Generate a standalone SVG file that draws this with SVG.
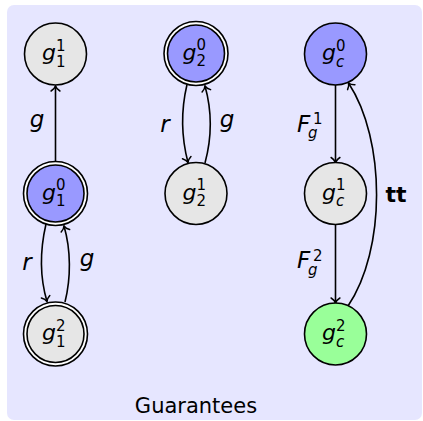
<svg xmlns="http://www.w3.org/2000/svg" width="423" height="421" viewBox="0 0 423 421">
  <defs>
    <marker id="arr" markerUnits="userSpaceOnUse" markerWidth="12" markerHeight="12" refX="0" refY="0" orient="auto" overflow="visible">
      <path d="M -5 -4.4 C -3.3 -1.7 -1.2 -0.4 0 0 C -1.2 0.4 -3.3 1.7 -5 4.4" fill="none" stroke="#000" stroke-width="1.5" stroke-linecap="round"/>
    </marker>
  </defs>
  <style>
    .bg { fill: #e6e6ff; }
    .st { stroke: #000; stroke-width: 1.6; }
    .gray { fill: #e6e6e6; }
    .blue { fill: #9999ff; }
    .green { fill: #99ff99; }
    .ring { fill: #ffffff; }
    .edge { fill: none; stroke: #000; stroke-width: 1.6; marker-end: url(#arr); }
    text { font-family: "DejaVu Sans", sans-serif; fill: #000; }
    .m { font-size: 22px; font-style: oblique; }
    .s { font-size: 15px; }
    .si { font-size: 15px; font-style: oblique; }
    .lbl { font-size: 23px; font-style: oblique; }
    .bold { font-size: 22px; font-weight: bold; }
    .cap { font-size: 21px; }
  </style>

  <!-- panel -->
  <rect class="bg" x="7" y="5" width="415" height="415" rx="7"/>

  <!-- transitions -->
  <g id="edges">
    <path class="edge" d="M 55.5 161.5 L 55.5 86"/>
    <path class="edge" d="M 46 224 C 40 250 40 278 47 301.5"/>
    <path class="edge" d="M 65 302 C 71 278 71 250 64 226"/>
    <path class="edge" d="M 187 84.5 C 181 110 181 136 188 162.5"/>
    <path class="edge" d="M 205 163 C 212 137 212 111 205 86"/>
    <path class="edge" d="M 335.5 85 L 335.5 162.5"/>
    <path class="edge" d="M 335.5 224.5 L 335.5 303"/>
    <path class="edge" d="M 348 306 C 386 250 386 140 348.5 83"/>
  </g>

  <!-- edge labels -->
  <g id="edge-labels">
    <text class="lbl" x="37" y="127" text-anchor="middle">g</text>
    <text class="lbl" x="27" y="270" text-anchor="middle">r</text>
    <text class="lbl" x="87" y="266" text-anchor="middle">g</text>
    <text class="lbl" x="165" y="132" text-anchor="middle">r</text>
    <text class="lbl" x="227" y="127" text-anchor="middle">g</text>
    <text class="lbl" x="297" y="132">F</text>
    <text class="s" x="313" y="124">1</text>
    <text class="si" x="308" y="138">g</text>
    <text class="lbl" x="297" y="268">F</text>
    <text class="s" x="313" y="261">2</text>
    <text class="si" x="308" y="275">g</text>
    <text class="bold" x="396" y="202" text-anchor="middle">tt</text>
  </g>

  <!-- g1^1 -->
  <g id="g1-1">
    <circle class="gray st" cx="55.5" cy="54" r="31"/>
    <text class="m" x="56" y="60" text-anchor="end">g</text>
    <text class="s" x="56" y="50.5">1</text>
    <text class="s" x="56" y="66.5">1</text>
  </g>

  <!-- g1^0 (accepting) -->
  <g id="g1-0">
    <circle class="ring st" cx="55.5" cy="193.5" r="32"/>
    <circle class="blue st" cx="55.5" cy="193.5" r="28.5"/>
    <text class="m" x="56" y="199.5" text-anchor="end">g</text>
    <text class="s" x="56" y="190">0</text>
    <text class="s" x="56" y="206">1</text>
  </g>

  <!-- g1^2 (accepting) -->
  <g id="g1-2">
    <circle class="ring st" cx="55.5" cy="334" r="32"/>
    <circle class="gray st" cx="55.5" cy="334" r="28.5"/>
    <text class="m" x="56" y="340" text-anchor="end">g</text>
    <text class="s" x="56" y="330.5">2</text>
    <text class="s" x="56" y="346.5">1</text>
  </g>

  <!-- g2^0 (accepting) -->
  <g id="g2-0">
    <circle class="ring st" cx="196" cy="53.5" r="32"/>
    <circle class="blue st" cx="196" cy="53.5" r="28.5"/>
    <text class="m" x="196.5" y="59.5" text-anchor="end">g</text>
    <text class="s" x="196.5" y="50">0</text>
    <text class="s" x="196.5" y="66">2</text>
  </g>

  <!-- g2^1 -->
  <g id="g2-1">
    <circle class="gray st" cx="196" cy="193.5" r="31"/>
    <text class="m" x="196.5" y="199.5" text-anchor="end">g</text>
    <text class="s" x="196.5" y="190">1</text>
    <text class="s" x="196.5" y="206">2</text>
  </g>

  <!-- gc^0 -->
  <g id="gc-0">
    <circle class="blue st" cx="335.5" cy="54" r="31"/>
    <text class="m" x="336" y="60" text-anchor="end">g</text>
    <text class="s" x="336" y="50.5">0</text>
    <text class="si" x="336" y="66.5">c</text>
  </g>

  <!-- gc^1 -->
  <g id="gc-1">
    <circle class="gray st" cx="335.5" cy="193.5" r="31"/>
    <text class="m" x="336" y="199.5" text-anchor="end">g</text>
    <text class="s" x="336" y="190">1</text>
    <text class="si" x="336" y="206">c</text>
  </g>

  <!-- gc^2 -->
  <g id="gc-2">
    <circle class="green st" cx="335.5" cy="334" r="31"/>
    <text class="m" x="336" y="340" text-anchor="end">g</text>
    <text class="s" x="336" y="330.5">2</text>
    <text class="si" x="336" y="346.5">c</text>
  </g>

  <!-- caption -->
  <text class="cap" x="196" y="413" text-anchor="middle">Guarantees</text>
</svg>
